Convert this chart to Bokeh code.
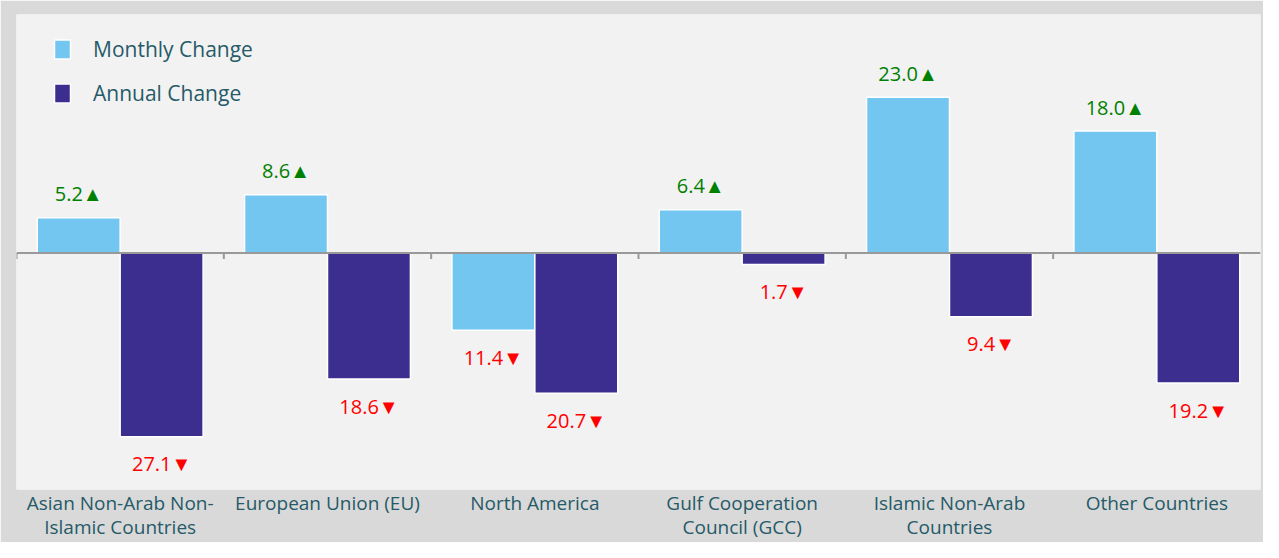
from bokeh.plotting import figure
from bokeh.models import (ColumnDataSource, FactorRange, Range1d, Span, Legend, LegendItem)
from bokeh.transform import dodge
from bokeh.core.properties import value
from bokeh.embed import file_html
from bokeh.resources import INLINE

categories = [
    "Asian Non-Arab Non-\nIslamic Countries",
    "European Union (EU)",
    "North America",
    "Gulf Cooperation\nCouncil (GCC)",
    "Islamic Non-Arab\nCountries",
    "Other Countries",
]
monthly = [5.2, 8.6, -11.4, 6.4, 23.0, 18.0]
annual = [-27.1, -18.6, -20.7, -1.7, -9.4, -19.2]
series_names = ["Monthly Change", "Annual Change"]

MONTHLY_COLOR = "#73c6f0"
ANNUAL_COLOR = "#3c2e8f"
TEXT_COLOR = "#265a68"
UP_COLOR = "#008000"
DOWN_COLOR = "#ff0000"
FONT = "Open Sans"


def label(v):
    return f"{abs(v):.1f}" + ("\u25B2" if v >= 0 else "\u25BC")


src = ColumnDataSource(dict(
    cat=categories,
    monthly=monthly,
    annual=annual,
    zero=[0] * len(categories),
    tick_bottom=[-0.9] * len(categories),
))


def label_source(vals):
    return ColumnDataSource(dict(
        cat=categories,
        val=list(vals),
        txt=[label(v) for v in vals],
        color=[UP_COLOR if v >= 0 else DOWN_COLOR for v in vals],
        yoff=[-24 if v >= 0 else 27 for v in vals],
    ))


p = figure(
    x_range=FactorRange(*categories, range_padding=0),
    y_range=Range1d(-34.9, 35.2),
    width=1263, height=542,
    output_backend="svg", toolbar_location=None,
    min_border_left=16, min_border_right=3, min_border_top=14, min_border_bottom=0,
)
p.background_fill_color = "#f2f2f2"
p.border_fill_color = "#d9d9d9"
p.outline_line_color = None
p.xgrid.visible = False
p.ygrid.visible = False
p.yaxis.visible = False

xa = p.xaxis[0]
xa.axis_line_color = None
xa.major_tick_line_color = None
xa.minor_tick_line_color = None
xa.major_tick_in = 0
xa.major_tick_out = 0
xa.major_label_text_font = FONT
xa.major_label_text_font_size = "19px"
xa.major_label_text_color = TEXT_COLOR
xa.major_label_standoff = 0
xa.major_label_text_line_height = 0.93

r1 = p.vbar(x=dodge("cat", -0.2, range=p.x_range), top="monthly", bottom=0, width=0.4,
            source=src, fill_color=MONTHLY_COLOR, line_color="white", line_width=1.5)
r2 = p.vbar(x=dodge("cat", 0.2, range=p.x_range), top="annual", bottom=0, width=0.4,
            source=src, fill_color=ANNUAL_COLOR, line_color="white", line_width=1.5)

# zero axis line with ticks at category boundaries
p.add_layout(Span(location=0, dimension="width", line_color="#999999", line_width=2))
p.segment(x0=dodge("cat", -0.5, range=p.x_range), x1=dodge("cat", -0.5, range=p.x_range),
          y0="zero", y1="tick_bottom", source=src, line_color="#999999", line_width=2)

for vals, off in ((monthly, -0.2), (annual, 0.2)):
    ls = label_source(vals)
    p.text(x=dodge("cat", off, range=p.x_range), y="val", text="txt", source=ls,
           text_color="color", text_font=value(FONT), text_font_size="20px",
           text_align="center", text_baseline="alphabetic", y_offset="yoff")

legend = Legend(items=[LegendItem(label=series_names[0], renderers=[r1]),
                       LegendItem(label=series_names[1], renderers=[r2])],
                location=(36, 382))
legend.label_text_font = FONT
legend.label_text_font_size = "21px"
legend.label_text_color = TEXT_COLOR
legend.glyph_width = 20
legend.glyph_height = 24
legend.label_height = 25
legend.label_standoff = 21
legend.spacing = 16
legend.padding = 0
legend.margin = 0
legend.background_fill_alpha = 0
legend.border_line_alpha = 0
p.add_layout(legend)

html = file_html(p, INLINE)
html = html.replace("<body>", '<body style="background-color:#d9d9d9;">', 1)
open("out.html", "w").write(html)
